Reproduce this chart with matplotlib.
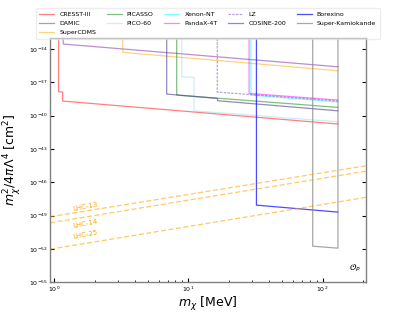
import numpy as np
import matplotlib
matplotlib.use('Agg')
import matplotlib.pyplot as plt
from matplotlib.ticker import NullLocator

# exclusion curves: masses [MeV] and log10 of the bound [cm^2]
cresst_m = [1.076, 1.076, 1.153, 1.153, 130]
cresst_s = [-30, -37.84, -37.87, -38.68, -40.75]
damic_m = [1.166, 1.166, 130]
damic_s = [-30, -33.54, -35.59]
supercdms_m = [3.24, 3.24, 130]
supercdms_s = [-30, -34.29, -35.95]
picasso_m = [8.17, 8.17, 130]
picasso_s = [-30, -38.14, -39.25]
pico_m = [8.9, 8.9, 11.0, 11.0, 130]
pico_s = [-30, -36.49, -36.54, -39.56, -40.55]
xenon_m = [29.2, 29.2, 130]
xenon_s = [-30, -38.14, -38.77]
pandax_m = [28.3, 28.3, 130]
pandax_s = [-30, -37.99, -38.59]
lz_m = [16.4, 16.4, 130]
lz_s = [-30, -37.87, -38.68]
cosine_m = [6.88, 6.88, 16.4, 16.5, 130]
cosine_s = [-30, -38.05, -38.44, -38.65, -39.56]
borexino_m = [32.1, 32.1, 130]
borexino_s = [-30, -48.06, -48.69]
superk_m = [84.3, 84.3, 130, 130]
superk_s = [-30, -51.76, -51.94, -30]

# LHC projections
lhc_m = [0.93, 210]
lhc13_s = [-49.11, -44.51]
lhc14_s = [-49.65, -45.0]
lhc25_s = [-52.03, -47.36]

curves = [
    ('CRESST-III', cresst_m, cresst_s, 'red', 0.5, '-'),
    ('DAMIC', damic_m, damic_s, '#8e44ad', 0.6, '-'),
    ('SuperCDMS', supercdms_m, supercdms_s, 'orange', 0.5, '-'),
    ('PICASSO', picasso_m, picasso_s, 'green', 0.5, '-'),
    ('PICO-60', pico_m, pico_s, 'skyblue', 0.4, '-'),
    ('Xenon-NT', xenon_m, xenon_s, 'cyan', 0.5, '-'),
    ('PandaX-4T', pandax_m, pandax_s, 'magenta', 0.5, '-'),
    ('LZ', lz_m, lz_s, 'rebeccapurple', 0.45, (0, (2, 1))),
    ('COSINE-200', cosine_m, cosine_s, 'darkslateblue', 0.6, '-'),
    ('Borexino', borexino_m, borexino_s, 'blue', 0.7, '-'),
    ('Super-Kamiokande', superk_m, superk_s, 'gray', 0.7, '-'),
]

fig = plt.figure(figsize=(4.07, 3.17), dpi=100)
ax = fig.add_axes([0.123, 0.110, 0.776, 0.770])

for name, m, s, c, a, ls in curves:
    ax.plot(m, 10.0 ** np.array(s), color=c, alpha=a, lw=0.9, ls=ls, label=name)

for s in [lhc13_s, lhc14_s, lhc25_s]:
    ax.plot(lhc_m, 10.0 ** np.array(s), color='orange', alpha=0.6, lw=0.9, ls=(0, (4, 2)))

ax.text(1.7, 10 ** -48.15, 'LHC-13', color='orange', fontsize=5, rotation=11, ha='center', va='center')
ax.text(1.7, 10 ** -49.71, 'LHC-14', color='orange', fontsize=5, rotation=11, ha='center', va='center')
ax.text(1.7, 10 ** -50.70, 'LHC-25', color='orange', fontsize=5, rotation=11, ha='center', va='center')

ax.text(0.985, 0.035, r'$\mathcal{O}_P$', transform=ax.transAxes, fontsize=6, ha='right', va='bottom')

ax.set_xscale('log')
ax.set_yscale('log')
ax.set_xlim(0.93, 210)
ax.set_ylim(1e-55, 1e-33)
ax.set_yticks([10.0 ** e for e in range(-55, -33, 3)])
ax.yaxis.set_minor_locator(NullLocator())
ax.tick_params(which='both', direction='in', right=True, labelsize=4.5, colors='black', pad=1.5)
ax.tick_params(which='major', length=3)
ax.tick_params(which='minor', length=1.5)
for sp in ax.spines.values():
    sp.set_color('gray')
    sp.set_linewidth(1.0)

ax.set_xlabel(r'$m_\chi$ [MeV]', fontsize=9)
ax.set_ylabel(r'$m_\chi^2/4\pi\Lambda^4$ [cm$^2$]', fontsize=9)
ax.xaxis.set_label_coords(0.5, -0.053)
ax.yaxis.set_label_coords(-0.085, 0.5)

ax.legend(loc='upper center', bbox_to_anchor=(0.51, 0.985), bbox_transform=fig.transFigure,
          ncol=5, fontsize=4.5, frameon=True, framealpha=0.5, edgecolor='#dddddd',
          handlelength=2.4, columnspacing=1.7, labelspacing=0.6, borderpad=0.6)

fig.savefig('out.png', dpi=100)
